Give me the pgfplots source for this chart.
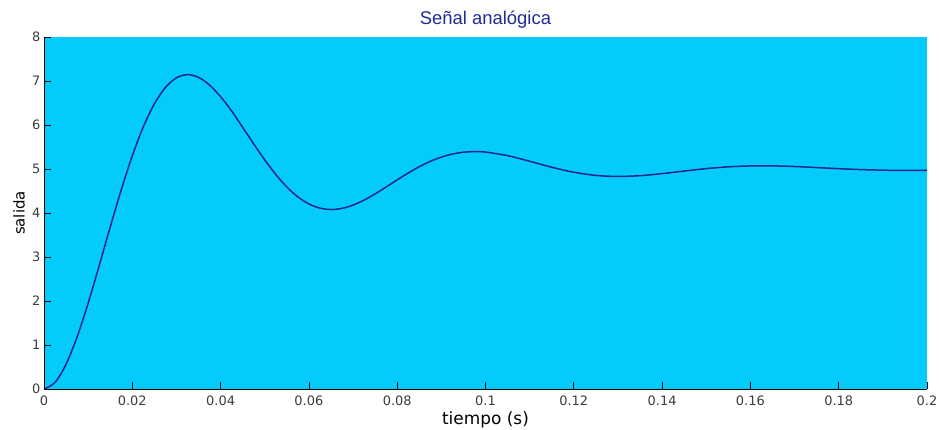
\documentclass[border=0pt]{standalone}
\usepackage{fontspec}
\setmainfont{Liberation Sans}
\newfontfamily\dejavu{DejaVu Sans}
\usepackage{pgfplots}
\pgfplotsset{compat=1.18}
\definecolor{bgcyan}{RGB}{3,204,253}
\definecolor{lineblue}{RGB}{30,38,140}
\definecolor{titleblue}{RGB}{32,44,150}
\definecolor{tickgray}{RGB}{60,60,60}
\begin{document}
\begin{tikzpicture}
\useasboundingbox (-44bp,-41bp) rectangle (895bp,389bp);
\begin{axis}[
  at={(0,0)}, anchor=south west,
  scale only axis, width=883bp, height=352bp,
  xmin=0, xmax=0.2, ymin=0, ymax=8,
  axis x line=bottom, axis y line=left,
  axis line style={-, black, line width=0.8pt},
  axis background/.style={fill=bgcyan},
  tick align=inside, major tick length=7bp,
  tick style={black, line width=0.8pt},
  xtick={0,0.02,0.04,0.06,0.08,0.1,0.12,0.14,0.16,0.18,0.2},
  xticklabels={0,0.02,0.04,0.06,0.08,0.1,0.12,0.14,0.16,0.18,0.2},
  ytick={0,1,2,3,4,5,6,7,8},
  yticklabels={0,1,2,3,4,5,6,7,8},
  scaled x ticks=false,
  ticklabel style={font=\dejavu\fontsize{13}{15}\selectfont, text=tickgray},
  xticklabel style={yshift=-3bp},
  yticklabel style={xshift=0bp},
  title={Señal analógica},
  title style={font=\fontsize{18.5}{22}\selectfont, text=titleblue, at={(0.5,1)}, anchor=center, yshift=11bp},
  xlabel={tiempo (s)},
  xlabel style={font=\dejavu\fontsize{17}{20}\selectfont, at={(0.5,0)}, anchor=center, yshift=-31bp},
  ylabel={salida},
  ylabel style={font=\dejavu\fontsize{15}{18}\selectfont, at={(0,0.5)}, anchor=center, yshift=25bp},
]
\addplot[smooth, line width=1.5bp, color=lineblue] coordinates {
(0,0) (0.0025,0.1489) (0.005,0.5625) (0.0075,1.1846) (0.01,1.9492)
(0.0125,2.8033) (0.015,3.6816) (0.0175,4.5288) (0.02,5.2998)
(0.0225,5.9600) (0.025,6.4813) (0.0275,6.8537) (0.03,7.0724)
(0.0325,7.1458) (0.035,7.0831) (0.0375,6.9080) (0.04,6.6429)
(0.0425,6.3184) (0.045,5.9481) (0.0475,5.5711) (0.05,5.2072)
(0.0525,4.8757) (0.055,4.5906) (0.0575,4.3669) (0.06,4.2058)
(0.0625,4.1107) (0.065,4.0791) (0.0675,4.1050) (0.07,4.1800)
(0.0725,4.2935) (0.075,4.4339) (0.0775,4.5914) (0.08,4.7526)
(0.0825,4.9089) (0.085,5.0515) (0.0875,5.1737) (0.09,5.2704)
(0.0925,5.3398) (0.095,5.3812) (0.0975,5.3952) (0.1,5.3844)
(0.105,5.3039) (0.11,5.1764) (0.115,5.0400) (0.12,4.9262)
(0.125,4.8544) (0.13,4.8304) (0.135,4.8485) (0.14,4.8950)
(0.145,4.9536) (0.15,5.0088) (0.155,5.0494) (0.16,5.0700)
(0.165,5.0709) (0.17,5.0563) (0.175,5.0328) (0.18,5.0077)
(0.185,4.9866) (0.19,4.9733) (0.195,4.9688) (0.2,4.9720)
};
\end{axis}
\end{tikzpicture}
\end{document}
